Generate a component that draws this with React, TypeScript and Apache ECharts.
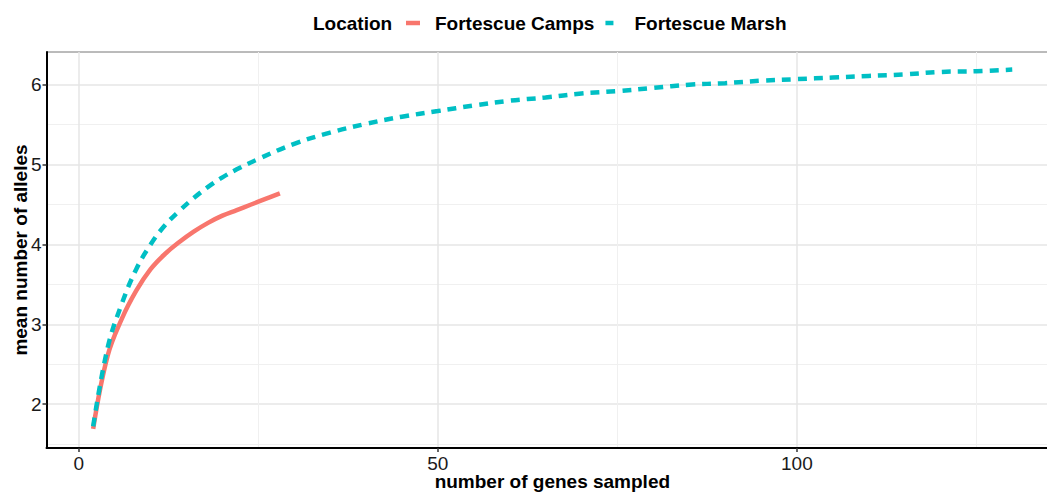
import React, { useEffect, useRef } from "react";
import * as echarts from "echarts";

const seriesNames = ["Fortescue Camps", "Fortescue Marsh"];
const campsX = [2, 4, 6, 8, 10, 12, 14, 16, 18, 20, 22, 24, 26, 28];
const campsY = [1.69, 2.6, 3.07, 3.42, 3.69, 3.88, 4.03, 4.16, 4.27, 4.36, 4.43, 4.5, 4.57, 4.64];
const marshX = [2, 4, 6, 8, 10, 12, 14, 16, 18, 20, 22, 25, 30, 35, 40, 45, 50, 55, 60, 65, 70, 75, 80, 85, 90, 95, 100, 105, 110, 115, 120, 125, 130];
const marshY = [1.72, 2.7, 3.26, 3.69, 4.0, 4.24, 4.42, 4.58, 4.72, 4.84, 4.94, 5.07, 5.26, 5.4, 5.51, 5.6, 5.67, 5.74, 5.8, 5.84, 5.89, 5.92, 5.96, 6.0, 6.02, 6.05, 6.07, 6.09, 6.11, 6.13, 6.16, 6.17, 6.19];
const xTicks = [0, 50, 100];
const yTicks = [2, 3, 4, 5, 6];
const legendTitle = "Location";
const xTitle = "number of genes sampled";
const yTitle = "mean number of alleles";

const FONT = "'Liberation Sans', Arial, sans-serif";
const RED = "#F8766D";
const CYAN = "#00BFC4";

export default function App() {
  const ref = useRef<HTMLDivElement>(null);
  useEffect(() => {
    if (!ref.current) return;
    const chart = echarts.init(ref.current, undefined, { renderer: "svg" });
    const camps = campsX.map((x, i) => [x, campsY[i]]);
    const marsh = marshX.map((x, i) => [x, marshY[i]]);
    chart.setOption({
      animation: false,
      backgroundColor: "#ffffff",
      textStyle: { fontFamily: FONT },
      title: {
        text: legendTitle,
        left: 313,
        top: 12,
        textStyle: { fontFamily: FONT, fontSize: 19, fontWeight: "bold", color: "#000", lineHeight: 22 },
        padding: 0,
      },
      legend: {
        left: 400,
        top: 12,
        padding: 0,
        itemWidth: 30,
        itemHeight: 6,
        itemGap: 5,
        symbolKeepAspect: true,
        itemStyle: { borderWidth: 0 },
        textStyle: { fontFamily: FONT, fontSize: 19, fontWeight: "bold", color: "#000", lineHeight: 22 },
        data: [
          { name: seriesNames[0], icon: "path://M0,0M30,6M6,0.75h14v4.5h-14z", itemStyle: { color: RED, borderWidth: 0 } },
          { name: seriesNames[1], icon: "path://M0,0M30,6M6,0.75h8v4.5h-8z", itemStyle: { color: CYAN, borderWidth: 0 } },
        ],
      },
      grid: {
        left: 46.5,
        top: 52,
        right: -11.2,
        bottom: 45,
        containLabel: false,
        outerBoundsMode: "none",
        show: true,
        borderColor: "#777",
        borderWidth: 1,
        backgroundColor: "transparent",
      },
      xAxis: {
        type: "value",
        min: -4.5,
        max: 136.4,
        splitNumber: 3,
        name: xTitle,
        nameLocation: "middle",
        nameGap: 24,
        nameMoveOverlap: false,
        nameTextStyle: { fontFamily: FONT, fontSize: 19, fontWeight: "bold", color: "#000" },
        axisLine: { show: true, onZero: false, lineStyle: { color: "#000", width: 2 } },
        axisTick: { show: true, customValues: xTicks, length: 4, lineStyle: { color: "#333", width: 1.5 } },
        axisLabel: { customValues: xTicks, fontFamily: FONT, fontSize: 19, color: "#1a1a1a", margin: 6 },
        splitLine: { show: true, lineStyle: { color: "#e6e6e6", width: 1.5 } },
        minorTick: { show: false, splitNumber: 2 },
        minorSplitLine: { show: true, lineStyle: { color: "#f0f0f0", width: 1 } },
      },
      yAxis: {
        type: "value",
        min: 1.45,
        max: 6.41,
        splitNumber: 5,
        name: yTitle,
        nameLocation: "middle",
        nameGap: 17,
        nameMoveOverlap: false,
        nameTextStyle: { fontFamily: FONT, fontSize: 19, fontWeight: "bold", color: "#000" },
        axisLine: { show: true, onZero: false, lineStyle: { color: "#000", width: 2 } },
        axisTick: { show: true, customValues: yTicks, length: 4, lineStyle: { color: "#333", width: 1.5 } },
        axisLabel: { customValues: yTicks, fontFamily: FONT, fontSize: 19, color: "#1a1a1a", margin: 5 },
        splitLine: { show: true, lineStyle: { color: "#e6e6e6", width: 1.5 } },
        minorTick: { show: false, splitNumber: 2 },
        minorSplitLine: { show: true, lineStyle: { color: "#f0f0f0", width: 1 } },
      },
      series: [
        {
          name: seriesNames[0],
          type: "line",
          data: camps,
          showSymbol: false,
          symbol: "none",
          smooth: 0.4,
          lineStyle: { color: RED, width: 4.5, cap: "butt" },
          itemStyle: { color: RED },
          z: 3,
        },
        {
          name: seriesNames[1],
          type: "line",
          data: marsh,
          showSymbol: false,
          symbol: "none",
          smooth: 0.4,
          lineStyle: { color: CYAN, width: 4.5, type: [9, 7], cap: "butt" },
          itemStyle: { color: CYAN },
          z: 4,
        },
      ],
    });
    return () => chart.dispose();
  }, []);
  return (
    <div
      ref={ref}
      style={{ position: "fixed", left: 0, top: 0, width: 1047, height: 493, background: "#fff" }}
    />
  );
}
